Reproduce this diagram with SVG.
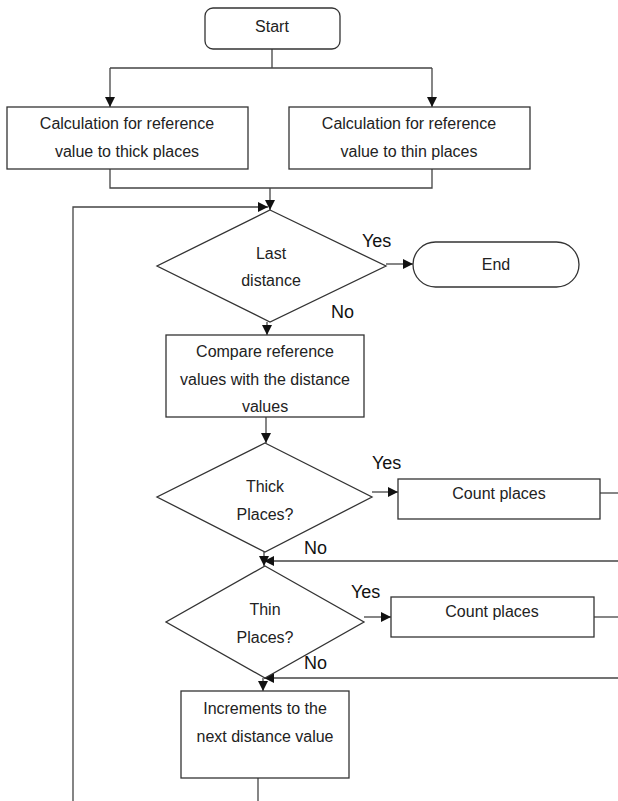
<svg xmlns="http://www.w3.org/2000/svg" width="618" height="801" viewBox="0 0 618 801">
<style>
.n{fill:#fff;stroke:#333;stroke-width:1.3}
.t{font-family:"Liberation Sans",Arial,sans-serif;font-size:16px;fill:#222;text-anchor:middle}
.l{font-family:"Liberation Sans",Arial,sans-serif;font-size:18px;fill:#111}
.c{fill:none;stroke:#444;stroke-width:1.3}
</style>
<defs>
<marker id="a" viewBox="0 0 10 10" refX="10" refY="5" markerWidth="10" markerHeight="10" markerUnits="userSpaceOnUse" orient="auto">
<path d="M0,0 L10,5 L0,10 Z" fill="#111"/>
</marker>
</defs>
<rect width="618" height="801" fill="#fff"/>
<g id="connectors">
<path class="c" d="M272,49 V68 M110,68 H432"/>
<path class="c" d="M110,68 V107" marker-end="url(#a)"/>
<path class="c" d="M432,68 V107" marker-end="url(#a)"/>
<path class="c" d="M110,169 V188 H432 V169"/>
<path class="c" d="M270,188 V210" marker-end="url(#a)"/>
<path class="c" d="M73,801 V207 H268" marker-end="url(#a)"/>
<path class="c" d="M386,264 H413" marker-end="url(#a)"/>
<path class="c" d="M267,322 V335" marker-end="url(#a)"/>
<path class="c" d="M266,417 V443" marker-end="url(#a)"/>
<path class="c" d="M372,492 H398" marker-end="url(#a)"/>
<path class="c" d="M600,493 H618"/>
<path class="c" d="M618,561 H264" marker-end="url(#a)"/>
<path class="c" d="M264,552 V566" marker-end="url(#a)"/>
<path class="c" d="M364,617 H391" marker-end="url(#a)"/>
<path class="c" d="M594,617 H618"/>
<path class="c" d="M618,678 H264" marker-end="url(#a)"/>
<path class="c" d="M263,678 V691" marker-end="url(#a)"/>
<path class="c" d="M258,778 V801"/>
</g>
<g id="start">
<rect class="n" x="205" y="8" width="135" height="41" rx="8"/>
<text class="t" x="272" y="32">Start</text>
</g>
<g id="calc-thick">
<rect class="n" x="7" y="107" width="241" height="62"/>
<text class="t" x="127" y="129">Calculation for reference</text>
<text class="t" x="127" y="157">value to thick places</text>
</g>
<g id="calc-thin">
<rect class="n" x="289" y="107" width="241" height="62"/>
<text class="t" x="409" y="129">Calculation for reference</text>
<text class="t" x="409" y="157">value to thin places</text>
</g>
<g id="last-distance">
<polygon class="n" points="270,210 386,266 270,322 157,266"/>
<text class="t" x="271" y="259">Last</text>
<text class="t" x="271" y="286">distance</text>
</g>
<text class="l" x="362" y="247">Yes</text>
<text class="l" x="331" y="318">No</text>
<g id="end">
<rect class="n" x="413" y="242" width="166" height="45" rx="22.5"/>
<text class="t" x="496" y="270">End</text>
</g>
<g id="compare">
<rect class="n" x="166" y="335" width="198" height="82"/>
<text class="t" x="265" y="357">Compare reference</text>
<text class="t" x="265" y="385">values with the distance</text>
<text class="t" x="265" y="412">values</text>
</g>
<g id="thick-places">
<polygon class="n" points="265,443 372,497 265,552 157,497"/>
<text class="t" x="265" y="492">Thick</text>
<text class="t" x="265" y="520">Places?</text>
</g>
<text class="l" x="372" y="469">Yes</text>
<text class="l" x="304" y="554">No</text>
<g id="count-thick">
<rect class="n" x="398" y="479" width="202" height="40"/>
<text class="t" x="499" y="499">Count places</text>
</g>
<g id="thin-places">
<polygon class="n" points="265,566 364,622 265,678 166,622"/>
<text class="t" x="265" y="615">Thin</text>
<text class="t" x="265" y="643">Places?</text>
</g>
<text class="l" x="351" y="598">Yes</text>
<text class="l" x="304" y="669">No</text>
<g id="count-thin">
<rect class="n" x="391" y="597" width="203" height="40"/>
<text class="t" x="492" y="617">Count places</text>
</g>
<g id="increment">
<rect class="n" x="181" y="691" width="168" height="87"/>
<text class="t" x="265" y="714">Increments to the</text>
<text class="t" x="265" y="742">next distance value</text>
</g>
</svg>
